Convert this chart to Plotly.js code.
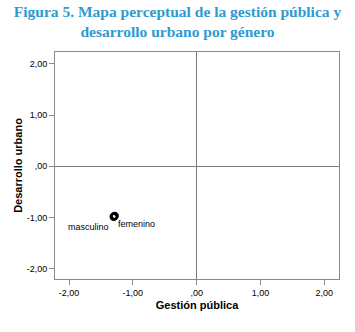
<!DOCTYPE html>
<html>
<head>
<meta charset="utf-8">
<script src="https://cdn.plot.ly/plotly-3.0.1.min.js"></script>
<style>
  html, body { margin: 0; padding: 0; background: #ffffff; }
  #chart { width: 355px; height: 332px; }
</style>
</head>
<body>
<div id="chart"></div>
<script>
// Category points of the perceptual map (gender)
const categories = ['masculino', 'femenino'];
const gestionPublica = [-1.30, -1.285];
const desarrolloUrbano = [-0.985, -0.97];

// Axis ticks with Spanish decimal formatting
const tickValues = [-2, -1, 0, 1, 2];
const tickLabels = ['-2,00', '-1,00', ',00', '1,00', '2,00'];

const chartTitle = 'Figura 5. Mapa perceptual de la gestión pública y<br>desarrollo urbano por género';
const xTitle = 'Gestión pública';
const yTitle = 'Desarrollo urbano';

const traces = categories.map((name, i) => ({
  type: 'scatter',
  mode: 'markers',
  name: name,
  x: [gestionPublica[i]],
  y: [desarrolloUrbano[i]],
  marker: { symbol: 'circle-open', size: 6, color: '#000000', line: { width: 2.4, color: '#000000' } },
  hoverinfo: 'x+y+name'
}));

// Label placement for each category: masculino to the lower left, femenino to the lower right
const labelStyle = [
  { xanchor: 'right', xshift: -3, yshift: -10 },
  { xanchor: 'left', xshift: 1, yshift: -8 }
];

const annotations = categories.map((name, i) => Object.assign({
  x: gestionPublica[i],
  y: desarrolloUrbano[i],
  xref: 'x', yref: 'y',
  text: name,
  showarrow: false,
  yanchor: 'middle',
  font: { family: 'Liberation Sans, Arial, sans-serif', size: 9, color: '#000000' }
}, labelStyle[i]));

const axisCommon = {
  tickmode: 'array',
  tickvals: tickValues,
  ticktext: tickLabels,
  ticks: 'outside',
  ticklen: 5,
  tickwidth: 1,
  tickcolor: '#8a8a8a',
  showline: true,
  linecolor: '#8a8a8a',
  linewidth: 1,
  mirror: true,
  showgrid: false,
  zeroline: true,
  zerolinecolor: '#7a7a7a',
  zerolinewidth: 1,
  tickfont: { family: 'Liberation Sans, Arial, sans-serif', size: 9, color: '#000000' },
  fixedrange: true
};

const layout = {
  width: 355,
  height: 332,
  paper_bgcolor: '#ffffff',
  plot_bgcolor: '#ffffff',
  showlegend: false,
  margin: { l: 55, r: 16, t: 52, b: 53 },
  title: {
    text: '<b>' + chartTitle + '</b>',
    font: { family: 'Liberation Serif, serif', size: 15.5, color: '#2e9ad0' },
    x: 0.5,
    xanchor: 'center',
    xref: 'container',
    y: 0.95,
    yref: 'container',
    yanchor: 'top'
  },
  xaxis: Object.assign({}, axisCommon, {
    range: [-2.22, 2.23],
    title: { text: '<b>' + xTitle + '</b>', standoff: 4,
             font: { family: 'Liberation Sans, Arial, sans-serif', size: 11, color: '#000000' } }
  }),
  yaxis: Object.assign({}, axisCommon, {
    range: [-2.2, 2.23],
    title: { text: '<b>' + yTitle + '</b>', standoff: 1,
             font: { family: 'Liberation Sans, Arial, sans-serif', size: 11, color: '#000000' } }
  }),
  annotations: annotations
};

Plotly.newPlot('chart', traces, layout, { displayModeBar: false, staticPlot: true });
</script>
</body>
</html>
